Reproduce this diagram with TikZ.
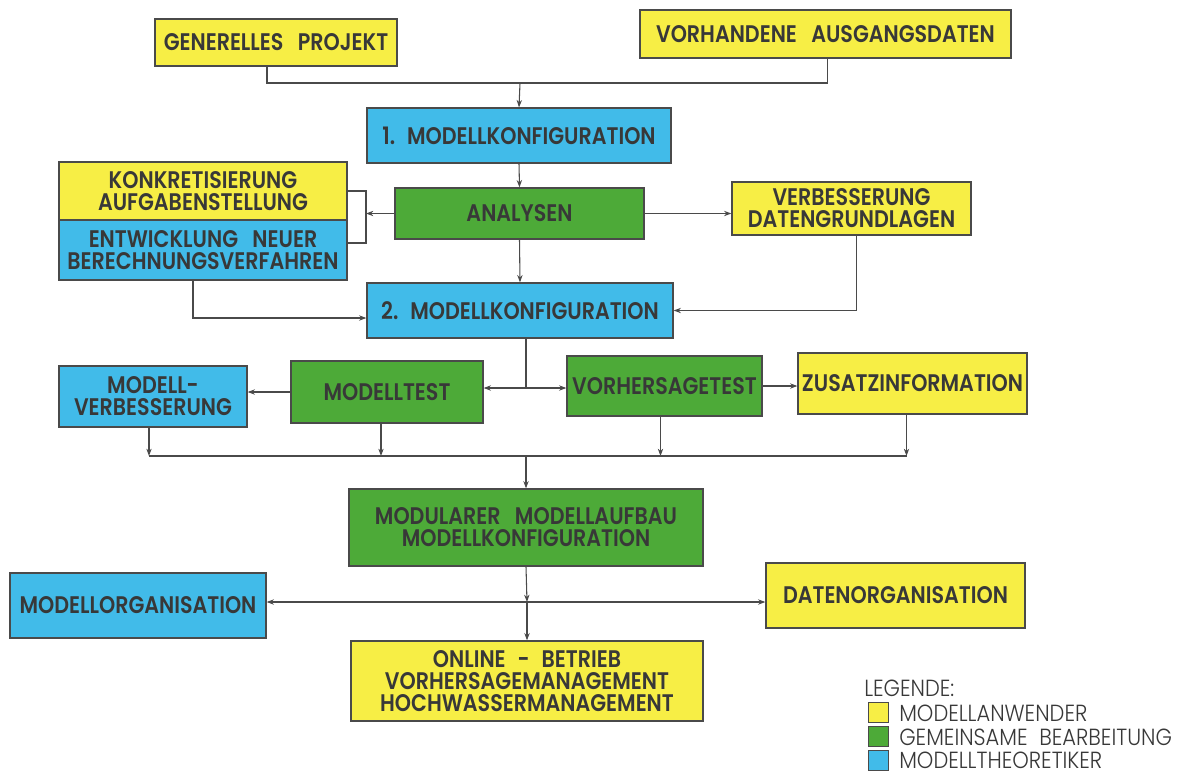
\documentclass[tikz,border=0pt]{standalone}
\usepackage{fontspec}
\setmainfont{Poppins}
\newfontfamily\boxfont{Poppins SemiBold}[FakeStretch=0.86]
\newfontfamily\legfont{Poppins Light}[FakeStretch=0.9]
\usetikzlibrary{arrows.meta,calc}
\def\pxu{0.75pt}
\definecolor{cyel}{HTML}{F7EE45}
\definecolor{cgrn}{HTML}{4DAA38}
\definecolor{cblu}{HTML}{41BBE9}
\definecolor{ctxt}{HTML}{383838}
\definecolor{cline}{HTML}{4A4A4A}
\tikzset{
  box/.style={draw=cline, line width=0.95pt, inner sep=0pt, align=center,
    text=ctxt, font=\boxfont\fontsize{18}{16.5}\selectfont},
  ybox/.style={box, fill=cyel},
  gbox/.style={box, fill=cgrn},
  bbox/.style={box, fill=cblu},
  conn/.style={draw=cline, line width=0.8pt},
  arr/.style={conn, -{Stealth[length=5.5pt,width=4pt]}},
  legsq/.style={draw=cline, line width=0.7pt, minimum size=20*\pxu, inner sep=0pt},
  legtx/.style={anchor=west, inner sep=0pt, text=ctxt, font=\legfont\fontsize{17.5}{18}\selectfont}
}
\begin{document}
\begin{tikzpicture}[x=\pxu, y=-\pxu]
\useasboundingbox (0,0) rectangle (1202,776);
\fill[white] (0,0) rectangle (1202,776);
% boxes
\node[ybox, minimum width=242*\pxu, minimum height=47*\pxu] (gp) at (276,42.5) {GENERELLES\hspace{0.6em}PROJEKT};
\node[ybox, minimum width=371*\pxu, minimum height=48*\pxu] (va) at (825.5,34) {VORHANDENE\hspace{0.6em}AUSGANGSDATEN};
\node[bbox, minimum width=304*\pxu, minimum height=55*\pxu] (mk1) at (519,135.5) {1.\hspace{0.5em}MODELLKONFIGURATION};
\node[gbox, minimum width=249*\pxu, minimum height=51*\pxu] (ana) at (519.5,213.5) {ANALYSEN};
\node[ybox, minimum width=288*\pxu, minimum height=58*\pxu] (kon) at (203,191) {KONKRETISIERUNG\\AUFGABENSTELLUNG};
\node[bbox, minimum width=288*\pxu, minimum height=60*\pxu] (ent) at (203,250) {ENTWICKLUNG\hspace{0.6em}NEUER\\BERECHNUNGSVERFAHREN};
\node[ybox, minimum width=239*\pxu, minimum height=53*\pxu] (vd) at (851.5,208.5) {VERBESSERUNG\\DATENGRUNDLAGEN};
\node[bbox, minimum width=306*\pxu, minimum height=55*\pxu] (mk2) at (520,310.5) {2.\hspace{0.5em}MODELLKONFIGURATION};
\node[bbox, minimum width=188*\pxu, minimum height=61*\pxu] (mv) at (153,396.5) {MODELL-\\VERBESSERUNG};
\node[gbox, minimum width=192*\pxu, minimum height=62*\pxu] (mt) at (387,392) {MODELLTEST};
\node[gbox, minimum width=195*\pxu, minimum height=60*\pxu] (vt) at (664.5,386) {VORHERSAGETEST};
\node[ybox, minimum width=229*\pxu, minimum height=61*\pxu] (zi) at (912.5,383.5) {ZUSATZINFORMATION};
\node[gbox, minimum width=354*\pxu, minimum height=77*\pxu] (mod) at (526,527.5) {MODULARER\hspace{0.6em}MODELLAUFBAU\\MODELLKONFIGURATION};
\node[bbox, minimum width=256*\pxu, minimum height=65*\pxu] (mo) at (138,605.5) {MODELLORGANISATION};
\node[ybox, minimum width=259*\pxu, minimum height=65*\pxu] (do) at (895.5,595.5) {DATENORGANISATION};
\node[ybox, minimum width=352*\pxu, minimum height=80*\pxu] (on) at (527,681) {ONLINE\hspace{0.5em}-\hspace{0.5em}BETRIEB\\VORHERSAGEMANAGEMENT\\HOCHWASSERMANAGEMENT};
% connectors
\coordinate (j1) at (520,83);
\draw[conn] ([xshift=-9*\pxu]gp.south) |- (j1) -| ([xshift=2*\pxu]va.south);
\draw[arr] (j1) -- (mk1.north);
\draw[arr] (mk1.south) -- (ana.north);
\coordinate (b1) at (366,243);
\draw[conn] (kon.east) -| (b1) -- (b1 -| ent.east);
\draw[arr] (ana.west) -- (ana.west -| b1);
\draw[arr] (ana.east) -- (ana.east -| vd.west);
\draw[arr] (ana.south) -- (mk2.north);
\coordinate (e1) at (193,318);
\draw[arr] (ent.south -| e1) -- (e1) -- (e1 -| mk2.west);
\draw[arr] ([xshift=5*\pxu]vd.south) |- (mk2.east);
\coordinate (t1) at (526,388);
\draw[conn] (mk2.south -| t1) -- (t1);
\draw[arr] (t1) -- (t1 -| mt.east);
\draw[arr] (t1) -- (t1 -| vt.west);
\draw[arr] (mt.west) -- (mt.west -| mv.east);
\draw[arr] (vt.east) -- (vt.east -| zi.west);
\coordinate (bus) at (526,456);
\draw[conn] ([xshift=-4*\pxu]mv.south |- bus) -- ([xshift=-6*\pxu]zi.south |- bus);
\draw[arr] ([xshift=-4*\pxu]mv.south) -- ([xshift=-4*\pxu]mv.south |- bus);
\draw[arr] ([xshift=-6*\pxu]mt.south) -- ([xshift=-6*\pxu]mt.south |- bus);
\draw[arr] ([xshift=-4*\pxu]vt.south) -- ([xshift=-4*\pxu]vt.south |- bus);
\draw[arr] ([xshift=-6*\pxu]zi.south) -- ([xshift=-6*\pxu]zi.south |- bus);
\draw[arr] (bus) -- (mod.north);
\coordinate (h1) at (527,602);
\draw[arr] (mod.south) -- (h1);
\draw[arr] (h1) -- (on.north);
\draw[arr] (h1) -- (h1 -| mo.east);
\draw[arr] (h1) -- (h1 -| do.west);
% legend
\node[legtx] (lh) at (864,688) {LEGENDE:};
\node[legsq, fill=cyel] (l1) at (878.5,712) {};
\node[legsq, fill=cgrn] (l2) at (878.5,736) {};
\node[legsq, fill=cblu] (l3) at (878.5,760) {};
\node[legtx] (lt1) at (899,713) {MODELLANWENDER};
\node[legtx] (lt2) at (899,737) {GEMEINSAME\hspace{0.5em}BEARBEITUNG};
\node[legtx] (lt3) at (899,760) {MODELLTHEORETIKER};
\end{tikzpicture}
\end{document}
